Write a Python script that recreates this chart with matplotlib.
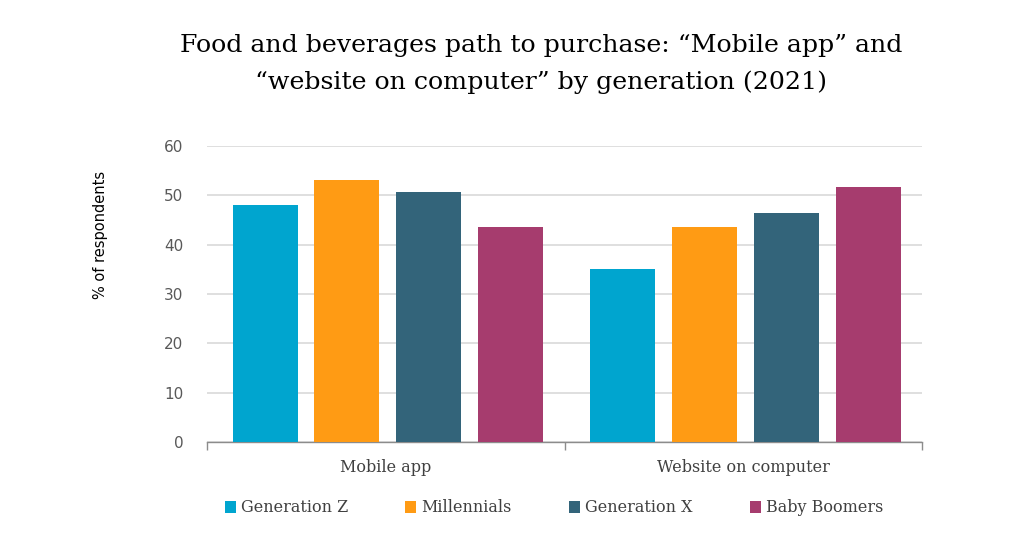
import matplotlib
matplotlib.use("Agg")
import matplotlib.pyplot as plt
import numpy as np

categories = ["Mobile app", "Website on computer"]
series_names = ["Generation Z", "Millennials", "Generation X", "Baby Boomers"]
gen_z = [48.0, 35.1]
millennials = [53.1, 43.6]
gen_x = [50.7, 46.5]
baby_boomers = [43.6, 51.6]
y_ticks = [0, 10, 20, 30, 40, 50, 60]

series = [gen_z, millennials, gen_x, baby_boomers]
colors = ["#00A5CF", "#FF9B14", "#33647A", "#A63C6E"]

fig = plt.figure(figsize=(10.24, 5.33), dpi=100)
ax = fig.add_axes([207/1024, (533-442)/533, (922-207)/1024, (442-146)/533])

x = np.arange(len(categories))
spacing = 0.229
width = 0.182
for i, (vals, c) in enumerate(zip(series, colors)):
    ax.bar(x + (i - 1.5) * spacing + 0.006, vals, width, color=c, label=series_names[i], zorder=3)

ax.set_xlim(-0.5, 1.5)
ax.set_ylim(0, 60)
ax.set_yticks(y_ticks)
ax.yaxis.grid(True, color="#D9D9D9", linewidth=1.2, zorder=0)
for s in ["left", "right", "top"]:
    ax.spines[s].set_visible(False)
ax.spines["bottom"].set_color("#8C8C8C")
ax.spines["bottom"].set_linewidth(1.0)
ax.tick_params(axis="y", length=0, labelsize=11, labelcolor="#595959", pad=17)
ax.set_xticks([-0.5, 0.5, 1.5])
ax.set_xticklabels([])
ax.tick_params(axis="x", length=6, color="#8C8C8C", width=1.0)
for xi, lab in zip(x, categories):
    ax.text(xi, -0.085, lab, transform=ax.get_xaxis_transform(), ha="center", va="center",
            fontsize=11.5, color="#404040", family="DejaVu Serif")

fig.text(100/1024, 1 - 235/533, "% of respondents", rotation=90, ha="center", va="center",
         fontsize=10.5, color="#000000")

fig.text(541/1024, 1 - 45/533, "Food and beverages path to purchase: \u201cMobile app\u201d and",
         ha="center", va="center", fontsize=18.2, family="DejaVu Serif", color="#000000")
fig.text(541/1024, 1 - 82/533, "\u201cwebsite on computer\u201d by generation (2021)",
         ha="center", va="center", fontsize=18.2, family="DejaVu Serif", color="#000000")

leg = fig.legend(loc="center", bbox_to_anchor=(554/1024, 1 - 508/533), ncol=4, frameon=False,
                 handlelength=0.7, handleheight=0.7, handletextpad=0.3, columnspacing=3.6,
                 prop={"family": "DejaVu Serif", "size": 11.5})
for t in leg.get_texts():
    t.set_color("#404040")

fig.savefig("out.png", dpi=100)
